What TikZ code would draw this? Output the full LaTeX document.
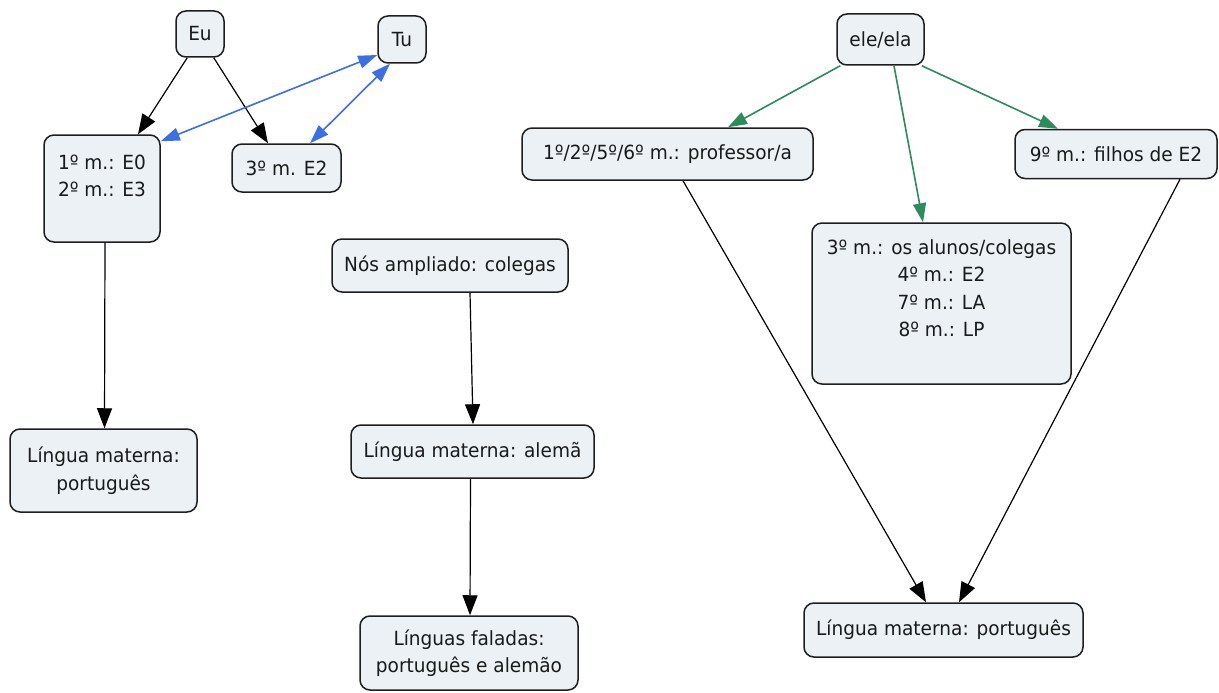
\documentclass[tikz,border=0pt]{standalone}
\usepackage{fontspec}
\setmainfont{DejaVu Sans}[FakeStretch=0.95]
\usetikzlibrary{arrows.meta,calc}
\definecolor{boxfill}{HTML}{EBF1F4}
\definecolor{boxline}{HTML}{1E1E1E}
\definecolor{inktext}{HTML}{1A1A1A}
\definecolor{linkblue}{HTML}{3B6FE3}
\definecolor{linkgreen}{HTML}{2E8B5A}
\begin{document}
\begin{tikzpicture}[x=1pt,y=-1pt,
  concept/.style={draw=boxline, fill=boxfill, line width=1.5pt, rounded corners=10pt,
    inner sep=0pt, align=center, text=inktext, font=\fontsize{19.5}{27.5}\selectfont},
  lbl/.style={inner sep=0pt, text=inktext, font=\fontsize{19.5}{27.5}\selectfont},
  link/.style={draw=black, line width=1.2pt, -{Triangle[length=20pt,width=15pt]}},
  blink/.style={draw=linkblue, line width=1.6pt,
    {Triangle[length=19pt,width=13pt]}-{Triangle[length=19pt,width=13pt]}},
  glink/.style={draw=linkgreen, line width=1.6pt, -{Triangle[length=19pt,width=13pt]}},
]
\fill[white] (0,0) rectangle (1219,693);
\useasboundingbox (0,0) rectangle (1219,693);

% --- left group: Eu / Tu ---
\node[concept, minimum width=48pt, minimum height=46pt] (eu) at (200,34) {Eu};
\node[concept, minimum width=48pt, minimum height=47pt] (tu) at (402,39.5) {Tu};
\node[concept, minimum width=116pt, minimum height=107pt] (m12) at (102,188.5) {};
\node[lbl, anchor=base] (m12t) at ($(m12.north)+(0,35)$)
  {\parbox[t]{110pt}{\centering 1º m.: E0\\2º m.: E3}};
\node[concept, minimum width=109pt, minimum height=48pt] (m3) at (286.5,168) {3º m. E2};
\node[concept, minimum width=187pt, minimum height=83pt] (lmp) at (103.5,470.5)
  {Língua materna:\\português};

% --- middle column ---
\node[concept, minimum width=236pt, minimum height=53pt] (nos) at (450,265.5)
  {Nós ampliado: colegas};
\node[concept, minimum width=243pt, minimum height=53pt] (lma) at (472.5,451.5)
  {Língua materna: alemã};
\node[concept, minimum width=218pt, minimum height=74pt] (lf) at (469,653)
  {Línguas faladas:\\português e alemão};

% --- right group: ele/ela ---
\node[concept, minimum width=87pt, minimum height=51pt] (ele) at (880.5,39.5) {ele/ela};
\node[concept, minimum width=291pt, minimum height=52pt] (prof) at (667.5,154)
  {1º/2º/5º/6º m.: professor/a};
\node[concept, minimum width=202pt, minimum height=49pt] (nove) at (1116,154)
  {9º m.: filhos de E2};
\node[concept, minimum width=259pt, minimum height=161pt] (alunos) at (941.5,303.5) {};
\node[lbl, anchor=base] (alunost) at ($(alunos.north)+(0,32)$)
  {\parbox[t]{250pt}{\centering 3º m.: os alunos/colegas\\4º m.: E2\\7º m.: LA\\8º m.: LP}};
\node[concept, minimum width=279pt, minimum height=54pt] (lmp2) at (943.5,630)
  {Língua materna: português};

% --- black links ---
\draw[link] ($(eu.south west)+(12,0)$) -- ($(m12.north)+(36,0)$);
\draw[link] ($(eu.south east)+(-11,0)$) -- ($(m3.north)+(-18.5,0)$);
\draw[link] ($(m12.south)+(3,0)$) -- ($(lmp.north)+(1,0)$);
\draw[link] ($(nos.south)+(20,0)$) -- ($(lma.north)+(0.5,0)$);
\draw[link] ($(lma.south)+(-2,0)$) -- ($(lf.north)+(1,0)$);
\draw[link] ($(prof.south)+(15.5,0)$) -- ($(lmp2.north)+(-17.5,0)$);
\draw[link] ($(nove.south)+(64,0)$) -- ($(lmp2.north)+(15.5,0)$);

% --- blue two-way links ---
\draw[blink] ($(tu.west)+(0,15.5)$) -- ($(m12.north east)+(0,7)$);
\draw[blink] ($(tu.south)+(-12,0)$) -- ($(m3.north)+(23.5,0)$);

% --- green links ---
\draw[glink] ($(ele.south west)+(4,0)$) -- ($(prof.north)+(60.5,0)$);
\draw[glink] ($(ele.south)+(13.5,0)$) -- ($(alunos.north)+(-18.5,0)$);
\draw[glink] ($(ele.south east)+(-3,0)$) -- ($(nove.north)+(-58,0)$);
\end{tikzpicture}
\end{document}
